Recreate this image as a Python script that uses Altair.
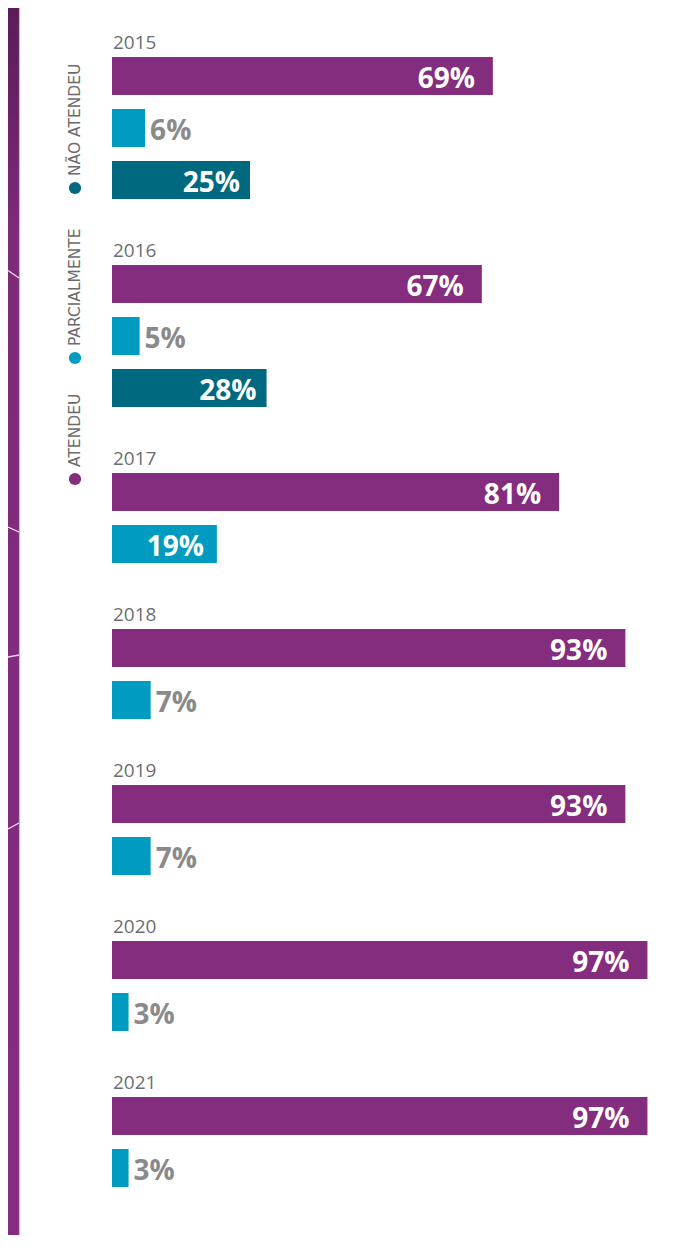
import altair as alt
import pandas as pd

# ---- data ----
years = ["2015", "2016", "2017", "2018", "2019", "2020", "2021"]
atendeu = [69, 67, 81, 93, 93, 97, 97]
parcialmente = [6, 5, 19, 7, 7, 3, 3]
nao_atendeu = [25, 28, None, None, None, None, None]
categories = ["Atendeu", "Parcialmente", "Não atendeu"]
legend_labels = ["ATENDEU", "PARCIALMENTE", "NÃO ATENDEU"]
colors = ["#842c7e", "#009bc0", "#00687f"]

# ---- table built from the arrays ----
rows = []
slot_domain = []
for i, yr in enumerate(years):
    slot_domain.append(f"{yr}|gap")
    for cat, series in zip(categories, [atendeu, parcialmente, nao_atendeu]):
        v = series[i]
        if v is None:
            continue
        key = f"{yr}|{cat}"
        slot_domain.append(key)
        rows.append(dict(year=yr, cat=cat, value=v, slot=key, label=f"{v}%"))
df = pd.DataFrame(rows)

W, H = 684, 1227
FONT = "Open Sans"

X = alt.X("value:Q", scale=alt.Scale(domain=[0, 100], range=[104, 656]), axis=None)
Y = alt.Y(
    "slot:N",
    scale=alt.Scale(domain=slot_domain, range=[-10, 1186], paddingInner=0.269, paddingOuter=0.1346),
    axis=None,
)

base = alt.Chart(df)

bars = base.mark_bar(strokeWidth=0).encode(
    x=X,
    y=Y,
    color=alt.Color("cat:N", scale=alt.Scale(domain=categories, range=colors), legend=None),
)

def inside(filter_expr, dx):
    return base.transform_filter(filter_expr).mark_text(
        align="right", baseline="middle", dx=dx, dy=4, font=FONT,
        fontWeight="bold", fontSize=28, color="white",
    ).encode(x=X, y=Y, text="label:N")

lab_at = inside("datum.cat == 'Atendeu'", -18)
lab_par = inside("datum.cat == 'Parcialmente' && datum.value >= 10", -13)
lab_nao = inside("datum.cat == 'Não atendeu'", -10)

lab_out = base.transform_filter("datum.value < 10").mark_text(
    align="left", baseline="middle", dx=5, dy=4, font=FONT,
    fontWeight="bold", fontSize=28, color="#8a8a8a",
).encode(x=X, y=Y, text="label:N")

year_lab = base.transform_filter("datum.cat == 'Atendeu'").mark_text(
    align="left", baseline="middle", dx=1, dy=-33, font=FONT,
    fontSize=19, color="#6e6e6e",
).encode(x=alt.datum(0), y=Y, text="year:N")

# ---- decoration: left strip, edge line, legend ----
one = pd.DataFrame({"k": [0]})
strip = alt.Chart(one).mark_rect(
    color=alt.Gradient(
        gradient="linear",
        stops=[
            alt.GradientStop(color="#5a1c57", offset=0),
            alt.GradientStop(color="#7d2a78", offset=0.18),
            alt.GradientStop(color="#852c80", offset=1),
        ],
        x1=0, x2=0, y1=0, y2=1,
    )
).encode(x=alt.value(0), x2=alt.value(11), y=alt.value(0), y2=alt.value(H))

strip_edge = alt.Chart(one).mark_rule(color="#d4b0d2", strokeWidth=1.2).encode(
    x=alt.value(11.5), y=alt.value(0), y2=alt.value(H)
)

deco = []
for (ya, yb) in [(262.5, 270), (519, 524), (649, 647), (821, 815)]:
    deco.append(
        alt.Chart(one).mark_rule(color="white", strokeWidth=1.3, opacity=0.85).encode(
            x=alt.value(0), x2=alt.value(11), y=alt.value(ya), y2=alt.value(yb)
        )
    )

legend_layers = []
for lab, col, dot_y in zip(legend_labels, colors, [471, 350, 180]):
    legend_layers.append(
        alt.Chart(one).mark_point(filled=True, shape="circle", size=150, opacity=1, color=col).encode(
            x=alt.value(67), y=alt.value(dot_y)
        )
    )
    legend_layers.append(
        alt.Chart(one).mark_text(
            angle=270, align="left", baseline="middle", font="DejaVu Sans", fontSize=15.5,
            color="#6b6b6b",
        ).encode(x=alt.value(67), y=alt.value(dot_y - 12), text=alt.value(lab))
    )

chart = alt.layer(
    strip, strip_edge, *deco, *legend_layers,
    bars, lab_at, lab_par, lab_nao, lab_out, year_lab,
).properties(
    width=W, height=H, padding=0,
    autosize=alt.AutoSizeParams(type="none"),
    background="white",
).configure_view(strokeWidth=0)

chart.save("out.html", embed_options={"renderer": "svg", "actions": False})
